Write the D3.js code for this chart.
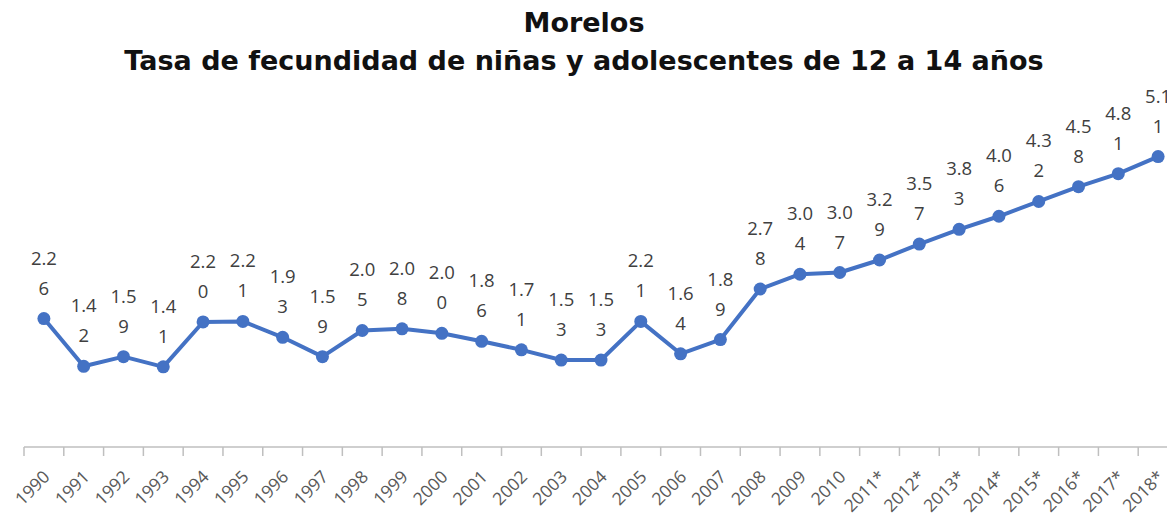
<!DOCTYPE html>
<html>
<head>
<meta charset="utf-8">
<script src="https://cdn.jsdelivr.net/npm/d3@7"></script>
<style>
  body { margin: 0; background: #fff; }
  svg { display: block; }
</style>
</head>
<body>
<svg id="chart" width="1167" height="519"></svg>
<script>
// Data
const years = ["1990", "1991", "1992", "1993", "1994", "1995", "1996", "1997", "1998", "1999",
    "2000", "2001", "2002", "2003", "2004", "2005", "2006", "2007", "2008", "2009", "2010",
    "2011*", "2012*", "2013*", "2014*", "2015*", "2016*", "2017*", "2018*"];
const rates = [2.26, 1.42, 1.59, 1.41, 2.20, 2.21, 1.93, 1.59, 2.05, 2.08,
    2.00, 1.86, 1.71, 1.53, 1.53, 2.21, 1.64, 1.89, 2.78, 3.04, 3.07,
    3.29, 3.57, 3.83, 4.06, 4.32, 4.58, 4.81, 5.11];
const titleLines = ["Morelos", "Tasa de fecundidad de niñas y adolescentes de 12 a 14 años"];

const svg = d3.select("#chart");
const width = 1167;

const x = d3.scaleBand()
    .domain(years)
    .range([24, 1178])
    .paddingInner(0)
    .paddingOuter(0);

const y = d3.scaleLinear()
    .domain([0, 6])
    .range([447, 106]);

const cx = d => x(d) + x.bandwidth() / 2;

// Title
svg.append("g")
    .attr("font-family", "DejaVu Sans, sans-serif")
    .attr("font-weight", "bold")
    .attr("font-size", 27)
    .attr("fill", "#111")
    .attr("text-anchor", "middle")
    .selectAll("text")
    .data(titleLines)
    .join("text")
    .attr("x", 584)
    .attr("y", (d, i) => 32 + i * 38)
    .text(d => d);

// X axis
const xAxis = svg.append("g")
    .attr("transform", `translate(0,${y(0)})`);

xAxis.append("line")
    .attr("x1", x.range()[0])
    .attr("x2", width)
    .attr("stroke", "#bfbfbf")
    .attr("stroke-width", 1.5);

xAxis.selectAll(".tick")
    .data(years)
    .join("line")
    .attr("class", "tick")
    .attr("x1", d => x(d))
    .attr("x2", d => x(d))
    .attr("y1", 0)
    .attr("y2", 9)
    .attr("stroke", "#bfbfbf")
    .attr("stroke-width", 1.5);

xAxis.selectAll(".tick-label")
    .data(years)
    .join("text")
    .attr("class", "tick-label")
    .attr("font-family", "Open Sans, sans-serif")
    .attr("font-size", 17.5)
    .attr("fill", "#595959")
    .attr("text-anchor", "end")
    .attr("transform", d => `translate(${cx(d) + 7},${31}) rotate(-45)`)
    .text(d => d);

// Line
const points = years.map((d, i) => ({ year: d, value: rates[i] }));

svg.append("path")
    .datum(points)
    .attr("fill", "none")
    .attr("stroke", "#4472C4")
    .attr("stroke-width", 4)
    .attr("stroke-linejoin", "round")
    .attr("d", d3.line().x(d => cx(d.year)).y(d => y(d.value)));

svg.append("g")
    .selectAll("circle")
    .data(points)
    .join("circle")
    .attr("cx", d => cx(d.year))
    .attr("cy", d => y(d.value))
    .attr("r", 6.5)
    .attr("fill", "#4472C4");

// Data labels (wrapped after 3 characters, like the original)
const labels = svg.append("g")
    .attr("font-family", "Open Sans, sans-serif")
    .attr("font-size", 18.5)
    .attr("fill", "#404040")
    .attr("text-anchor", "middle")
    .selectAll("text")
    .data(points)
    .join("text")
    .attr("x", d => cx(d.year))
    .attr("y", d => y(d.value) - 54);

labels.each(function(d) {
    const s = d.value.toFixed(2);
    const t = d3.select(this);
    t.append("tspan").attr("x", cx(d.year)).attr("dy", 0).text(s.slice(0, 3));
    t.append("tspan").attr("x", cx(d.year)).attr("dy", 30).text(s.slice(3));
});
</script>
</body>
</html>
